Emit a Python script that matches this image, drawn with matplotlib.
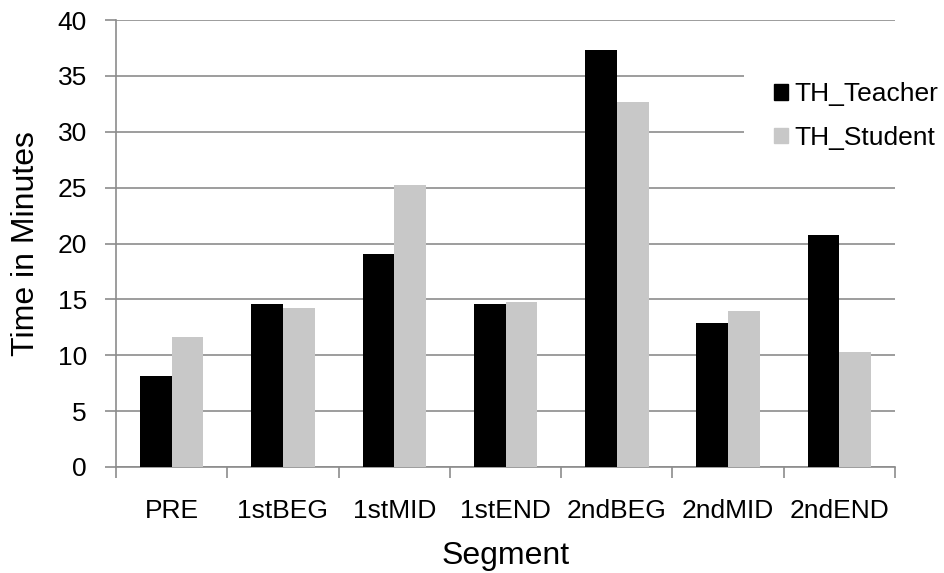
import numpy as np
import matplotlib
matplotlib.use('Agg')
import matplotlib.pyplot as plt
from matplotlib.patches import Patch

#------------------------------------------------------------------------------------------
segments = ['PRE', '1stBEG', '1stMID', '1stEND', '2ndBEG', '2ndMID', '2ndEND']
teacher = [8.1, 14.55, 19.1, 14.55, 37.35, 12.85, 20.8]
student = [11.6, 14.25, 25.2, 14.75, 32.65, 13.95, 10.25]
series_names = ['TH_Teacher', 'TH_Student']
#------------------------------------------------------------------------------------------

plt.rcParams['font.family'] = ['Liberation Sans', 'DejaVu Sans']

fig = plt.figure(figsize=(9.44, 5.73), dpi=100)
ax = fig.add_axes([0.1229, 0.185, 0.8252, 0.78])

grey = '#8c8c8c'
x = np.arange(len(segments))
w = 0.285
ax.bar(x - w / 2, teacher, w, color='black', zorder=3)
ax.bar(x + w / 2, student, w, color='#c8c8c8', zorder=3)

ax.set_xlim(-0.5, len(segments) - 0.5)
ax.set_ylim(0, 40)
ax.set_yticks(np.arange(0, 41, 5))
ax.yaxis.grid(True, color=grey, linewidth=1.2, zorder=0)

# category boundary ticks on x axis, labels at centers
ax.set_xticks(np.arange(-0.5, len(segments), 1.0))
ax.set_xticklabels([])
ax.set_xticks(x, minor=True)
ax.set_xticklabels(segments, minor=True, fontsize=19)
ax.tick_params(axis='x', which='minor', length=0, pad=23)
ax.tick_params(axis='x', which='major', length=8, color=grey, width=1.2)
ax.tick_params(axis='y', length=8, color=grey, width=1.2, labelsize=19, pad=13)

for s in ['top', 'right']:
    ax.spines[s].set_visible(False)
for s in ['left', 'bottom']:
    ax.spines[s].set_color(grey)
    ax.spines[s].set_linewidth(1.2)

ax.set_xlabel('Segment', fontsize=23, labelpad=13)
ax.set_ylabel('Time in Minutes', fontsize=23, labelpad=12)

handles = [Patch(color='black'), Patch(color='#c8c8c8')]
leg = ax.legend(handles, series_names, loc='upper left', bbox_to_anchor=(744 / 944, 1 - 52 / 573),
                bbox_transform=fig.transFigure, frameon=True, fontsize=19,
                handlelength=0.5, handleheight=0.5, handletextpad=0.27,
                labelspacing=0.73, borderpad=1.15, borderaxespad=0)
leg.get_frame().set_facecolor('white')
leg.get_frame().set_edgecolor('none')
leg.get_frame().set_alpha(1)
leg.set_zorder(5)

plt.savefig('out.png', dpi=100)
